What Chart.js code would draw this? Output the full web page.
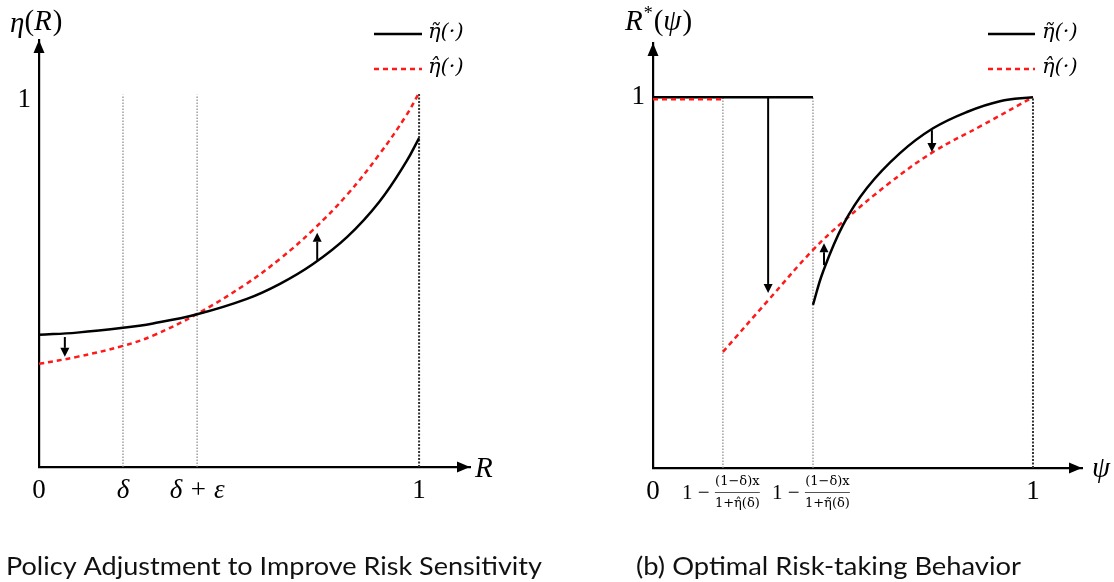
<!DOCTYPE html>
<html>
<head>
<meta charset="utf-8">
<script src="https://cdn.jsdelivr.net/npm/chart.js@4.4.0/dist/chart.umd.min.js"></script>
<style>
  html, body { margin: 0; padding: 0; background: #fff; }
  #wrap { position: relative; width: 1114px; height: 582px; }
  #cL { position: absolute; left: 0; top: 0; }
  #cR { position: absolute; left: 557px; top: 0; }
</style>
</head>
<body>
<div id="wrap">
  <canvas id="cL" width="557" height="582"></canvas>
  <canvas id="cR" width="557" height="582"></canvas>
</div>
<script>
// ---------- Data ----------
// Left panel: eta(R)
const leftR        = [0, 0.1, 0.221, 0.3, 0.416, 0.547, 0.634, 0.721, 0.811, 0.895, 0.966, 1.0];
const leftTilde    = [0.360, 0.366, 0.379, 0.391, 0.416, 0.458, 0.499, 0.553, 0.627, 0.722, 0.831, 0.896];
const leftHat      = [0.281, 0.300, 0.330, 0.358, 0.417, 0.500, 0.567, 0.646, 0.742, 0.851, 0.957, 1.019];
const leftGuideX   = [0.221, 0.416, 1.0];
const leftGuideTop = [1.014, 1.014, 1.019];
const leftTickValues = [0, 0.221, 0.416, 1];
const leftTickLabels = ['0', 'δ', 'δ + ε', '1'];
const leftArrowX    = [0.068, 0.732];
const leftArrowFrom = [0.354, 0.564];
const leftArrowTo   = [0.300, 0.638];

// Right panel: R*(psi)
const rightTildeFlatX = [0, 0.421];
const rightTildeFlatY = [1, 1];
const rightTildeX = [0.421, 0.447, 0.5, 0.563, 0.65, 0.737, 0.826, 0.913, 1.0];
const rightTildeY = [0.44, 0.528, 0.655, 0.755, 0.849, 0.916, 0.960, 0.989, 1.0];
const rightHatFlatX = [0, 0.184];
const rightHatFlatY = [0.994, 0.994];
const rightHatX = [0.184, 0.303, 0.421, 0.5, 0.618, 0.737, 0.868, 1.0];
const rightHatY = [0.313, 0.452, 0.588, 0.664, 0.765, 0.852, 0.925, 1.0];
const rightGuideX   = [0.184, 0.421, 1.0];
const rightGuideTop = [1, 1, 1];
const rightTickValues = [0, 1];
const rightTickLabels = ['0', '1'];
const rightFracLabels = [
  {num: '(1−δ)x', den: '1+η\u0302(δ)'},
  {num: '(1−δ)x', den: '1+η\u0303(δ)'}
];
const rightArrowX    = [0.303, 0.45, 0.734];
const rightArrowFrom = [1.0, 0.547, 0.911];
const rightArrowTo   = [0.472, 0.606, 0.852];

const legendLabels = ['η\u0303(·)', 'η\u0302(·)'];

// ---------- Helpers ----------
const SERIF = '"Liberation Serif", "DejaVu Serif", serif';
const DSERIF = '"DejaVu Serif", serif';
function pts(xs, ys) { return xs.map((x, i) => ({x, y: ys[i]})); }
function guideSets(xs, tops) {
  return xs.map((x, i) => ({
    data: [{x, y: 0}, {x, y: tops[i]}],
    borderColor: i === xs.length - 1 ? '#333' : '#888',
    borderWidth: i === xs.length - 1 ? 2 : 1.2,
    borderDash: i === xs.length - 1 ? [2, 1.5] : [1.5, 1.5],
    pointRadius: 0, tension: 0, order: 5
  }));
}
function drawArrow(ctx, x, y1, y2) {
  const dir = y2 > y1 ? 1 : -1;
  const head = 9, hw = 4.5;
  ctx.save();
  ctx.strokeStyle = '#000'; ctx.fillStyle = '#000'; ctx.lineWidth = 2;
  ctx.beginPath(); ctx.moveTo(x, y1); ctx.lineTo(x, y2 - dir * head); ctx.stroke();
  ctx.beginPath(); ctx.moveTo(x, y2); ctx.lineTo(x - hw, y2 - dir * head); ctx.lineTo(x + hw, y2 - dir * head); ctx.closePath(); ctx.fill();
  ctx.restore();
}
function drawAxisHeads(chart) {
  const {ctx, chartArea: a} = chart;
  ctx.save(); ctx.fillStyle = '#000';
  ctx.beginPath(); ctx.moveTo(a.right, a.bottom); ctx.lineTo(a.right - 13, a.bottom - 5.5); ctx.lineTo(a.right - 13, a.bottom + 5.5); ctx.closePath(); ctx.fill();
  ctx.beginPath(); ctx.moveTo(a.left, a.top); ctx.lineTo(a.left - 5.5, a.top + 13); ctx.lineTo(a.left + 5.5, a.top + 13); ctx.closePath(); ctx.fill();
  ctx.restore();
}
function drawLegend(chart, x0, x1, textX) {
  const ctx = chart.ctx;
  const ys = [34, 69];
  [0, 1].forEach(i => {
    const ds = chart.data.datasets[i];
    ctx.save();
    ctx.strokeStyle = ds.borderColor; ctx.lineWidth = 2.5;
    ctx.setLineDash(ds.borderDash || []);
    ctx.beginPath(); ctx.moveTo(x0, ys[i]); ctx.lineTo(x1, ys[i]); ctx.stroke();
    ctx.restore();
    ctx.save();
    ctx.fillStyle = '#000'; ctx.font = 'italic 21px ' + DSERIF; ctx.textBaseline = 'middle';
    ctx.fillText(legendLabels[i], textX, ys[i] - 1);
    ctx.restore();
  });
}
function drawCaption(ctx, text, x, baseline, width) {
  ctx.save();
  ctx.font = "25px Lato, 'Open Sans', sans-serif";
  ctx.fillStyle = '#111'; ctx.textBaseline = 'alphabetic';
  const w = ctx.measureText(text).width;
  ctx.translate(x, baseline); ctx.scale(width / w, 1);
  ctx.fillText(text, 0, 0);
  ctx.restore();
}
function axisCommon(min, max, values, labels, italicIdx, extra) {
  return Object.assign({
    type: 'linear', min, max,
    grid: {display: false, drawTicks: false},
    border: {display: true, color: '#000', width: 2.2},
    afterBuildTicks: s => { s.ticks = values.map(v => ({value: v})); },
    ticks: {
      autoSkip: false, maxRotation: 0, color: '#000', padding: 8,
      callback: (v, i) => labels[i],
      font: c => ({family: SERIF, size: 27, style: italicIdx.includes(c.index) ? 'italic' : 'normal'})
    }
  }, extra || {});
}
const curveOpts = {pointRadius: 0, tension: 0.4, borderJoinStyle: 'round'};

// ---------- Left chart ----------
const leftPlugin = {
  id: 'leftExtras',
  afterDatasetsDraw(chart) {
    const {ctx, scales: {x, y}} = chart;
    drawAxisHeads(chart);
    leftArrowX.forEach((v, i) => drawArrow(ctx, x.getPixelForValue(v), y.getPixelForValue(leftArrowFrom[i]), y.getPixelForValue(leftArrowTo[i])));
    drawLegend(chart, 374, 422, 428);
    ctx.save(); ctx.fillStyle = '#000'; ctx.textBaseline = 'middle';
    ctx.font = 'italic 29px ' + SERIF;
    ctx.fillText('η', 10, 24);
    let tx = 10 + ctx.measureText('η').width;
    ctx.font = '29px ' + SERIF; ctx.fillText('(', tx, 22); tx += ctx.measureText('(').width;
    ctx.font = 'italic 29px ' + SERIF; ctx.fillText('R', tx, 22); tx += ctx.measureText('R').width + 1;
    ctx.font = '29px ' + SERIF; ctx.fillText(')', tx, 22);
    ctx.font = 'italic 29px ' + SERIF;
    ctx.fillText('R', 475, 469);
    ctx.restore();
    drawCaption(ctx, 'Policy Adjustment to Improve Risk Sensitivity', 6, 575, 536);
  }
};
new Chart(document.getElementById('cL'), {
  type: 'line',
  data: {
    datasets: [
      Object.assign({data: pts(leftR, leftTilde), borderColor: '#000', borderWidth: 2.5, order: 1}, curveOpts),
      Object.assign({data: pts(leftR, leftHat), borderColor: '#ff1a1a', borderWidth: 2.5, borderDash: [5, 4], order: 2}, curveOpts),
      ...guideSets(leftGuideX, leftGuideTop)
    ]
  },
  options: {
    responsive: false, animation: false, events: [],
    layout: {padding: {left: 0, top: 40, right: 87, bottom: 0}},
    plugins: {legend: {display: false}, tooltip: {enabled: false}},
    scales: {
      x: axisCommon(0, 1.134, leftTickValues, leftTickLabels, [1, 2], {afterFit: s => { s.height = 115; }}),
      y: axisCommon(0, 1.163, [1], ['1'], [], {afterFit: s => { s.width = 39; }})
    }
  },
  plugins: [leftPlugin]
});

// ---------- Right chart ----------
const rightPlugin = {
  id: 'rightExtras',
  afterDatasetsDraw(chart) {
    const {ctx, scales: {x, y}} = chart;
    drawAxisHeads(chart);
    rightArrowX.forEach((v, i) => drawArrow(ctx, x.getPixelForValue(v), y.getPixelForValue(rightArrowFrom[i]), y.getPixelForValue(rightArrowTo[i])));
    drawLegend(chart, 431, 478, 485);
    // axis titles
    ctx.save(); ctx.fillStyle = '#000'; ctx.textBaseline = 'middle';
    ctx.font = 'italic 29px ' + SERIF;
    let tx = 68;
    ctx.fillText('R', tx, 22); tx += ctx.measureText('R').width + 1;
    ctx.font = '18px ' + SERIF; ctx.fillText('*', tx, 14); tx += ctx.measureText('*').width + 1;
    ctx.font = '29px ' + SERIF; ctx.fillText('(', tx, 22); tx += ctx.measureText('(').width;
    ctx.font = 'italic 29px ' + SERIF; ctx.fillText('ψ', tx, 22); tx += ctx.measureText('ψ').width + 1;
    ctx.font = '29px ' + SERIF; ctx.fillText(')', tx, 22);
    ctx.font = 'italic 29px ' + SERIF;
    ctx.fillText('ψ', 1092 - 557, 469);
    ctx.restore();
    // fraction tick labels
    rightFracLabels.forEach((f, i) => {
      const px = x.getPixelForValue(rightGuideX[i]);
      ctx.save(); ctx.fillStyle = '#000';
      ctx.font = '21px ' + SERIF;
      const pre = '1 − ';
      const wPre = ctx.measureText(pre).width;
      ctx.font = '13px ' + DSERIF;
      const wf = Math.max(ctx.measureText(f.num).width, ctx.measureText(f.den).width);
      const start = px - 2 - (wPre + wf) / 2;
      ctx.font = '21px ' + SERIF; ctx.textBaseline = 'middle';
      ctx.fillText(pre, start, 493);
      const fc = start + wPre + wf / 2;
      ctx.font = '13px ' + DSERIF; ctx.textAlign = 'center';
      ctx.fillText(f.num, fc, 482);
      ctx.fillText(f.den, fc, 504);
      ctx.strokeStyle = '#555'; ctx.lineWidth = 1;
      ctx.beginPath(); ctx.moveTo(fc - wf / 2, 492.5); ctx.lineTo(fc + wf / 2, 492.5); ctx.stroke();
      ctx.restore();
    });
    drawCaption(ctx, '(b) Optimal Risk-taking Behavior', 79, 575, 385);
  }
};
new Chart(document.getElementById('cR'), {
  type: 'line',
  data: {
    datasets: [
      Object.assign({data: pts(rightTildeX, rightTildeY), borderColor: '#000', borderWidth: 2.5, order: 1}, curveOpts),
      Object.assign({data: pts(rightHatX, rightHatY), borderColor: '#ff1a1a', borderWidth: 2.5, borderDash: [5, 4], order: 2}, curveOpts),
      {data: pts(rightTildeFlatX, rightTildeFlatY), borderColor: '#000', borderWidth: 2.5, pointRadius: 0, order: 1},
      {data: pts(rightHatFlatX, rightHatFlatY), borderColor: '#ff1a1a', borderWidth: 2.5, borderDash: [5, 4], pointRadius: 0, order: 0},
      ...guideSets(rightGuideX, rightGuideTop)
    ]
  },
  options: {
    responsive: false, animation: false, events: [],
    layout: {padding: {left: 0, top: 43, right: 32, bottom: 0}},
    plugins: {legend: {display: false}, tooltip: {enabled: false}},
    scales: {
      x: axisCommon(0, 1.129, rightTickValues, rightTickLabels, [], {afterFit: s => { s.height = 114; }}),
      y: axisCommon(0, 1.146, [1], ['1'], [], {afterFit: s => { s.width = 96; }})
    }
  },
  plugins: [rightPlugin]
});
</script>
</body>
</html>
